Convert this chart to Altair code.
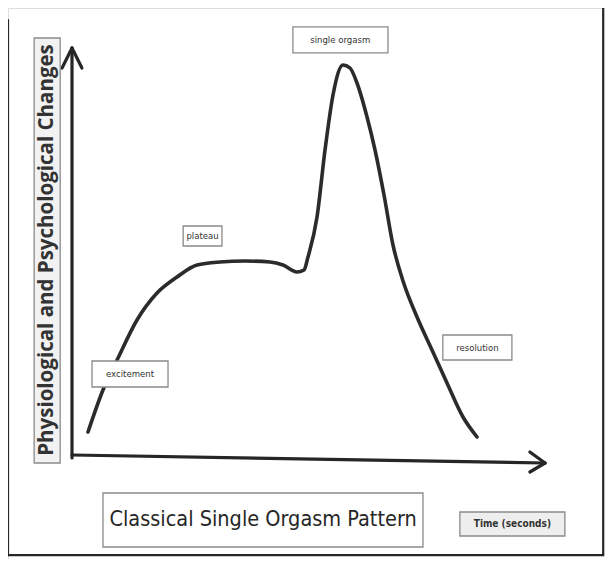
import altair as alt
import pandas as pd

# Curve: time (arbitrary units) vs physiological/psychological response
curve_time = [0.338, 0.655, 0.973, 1.374, 1.797, 2.220, 2.643, 3.129, 3.657, 4.186,
              4.461, 4.757, 4.905, 4.989, 5.180, 5.349, 5.518, 5.729, 5.877, 6.025,
              6.237, 6.406, 6.596, 6.786, 6.998, 7.294, 7.611, 7.928, 8.266, 8.562]
curve_resp = [0.65, 1.70, 2.50, 3.45, 4.125, 4.525, 4.825, 4.90, 4.925, 4.90,
              4.825, 4.65, 4.70, 5.025, 6.025, 7.70, 9.075, 9.825, 9.75, 9.375,
              8.525, 7.70, 6.575, 5.325, 4.425, 3.525, 2.70, 1.875, 1.025, 0.525]

phase_labels = ["single orgasm", "plateau", "excitement", "resolution"]
title_text = "Classical Single Orgasm Pattern"
x_title_text = "Time (seconds)"
y_title_text = "Physiological and Psychological Changes"

X_DOM = [-1.353, 11.268]
Y_DOM = [-2.525, 11.25]
xs = alt.Scale(domain=X_DOM, nice=False, zero=False)
ys = alt.Scale(domain=Y_DOM, nice=False, zero=False)


def X(f="x"):
    return alt.X(f"{f}:Q", scale=xs, axis=None)


def Y(f="y"):
    return alt.Y(f"{f}:Q", scale=ys, axis=None)


curve_df = pd.DataFrame({"t": curve_time, "r": curve_resp})
curve = alt.Chart(curve_df).mark_line(
    interpolate="monotone", color="#2b2b2b", strokeWidth=3.6, strokeCap="round"
).encode(x=alt.X("t:Q", scale=xs, axis=None), y=alt.Y("r:Q", scale=ys, axis=None))

# axes with arrowheads, and the frame
seg = pd.DataFrame({
    "x": [0, 0, -0.21, 0.21, 9.68, 9.68, -1.353, -1.353, 11.23],
    "y": [0, 0.075, 9.75, 9.75, 0.15, -0.35, 10.95, -2.43, -2.43],
    "x2": [0, 10, 0, 0, 10, 10, -1.353, 11.23, 11.23],
    "y2": [10.25, -0.125, 10.25, 10.25, -0.125, -0.125, -2.43, -2.43, 11.4],
    "w": [3.2, 3.2, 3.2, 3.2, 3.2, 3.2, 2.2, 2.2, 2.2],
})
segs = alt.Chart(seg).mark_rule(color="#262626", strokeCap="round").encode(
    x=X(), y=Y(), x2="x2:Q", y2="y2:Q",
    strokeWidth=alt.StrokeWidth("w:Q", scale=None, legend=None))

# boxes
boxes = pd.DataFrame({
    "x": [4.67, 2.35, 0.423, 7.84, 0.655, 8.2, -0.80],
    "x2": [6.68, 3.17, 2.03, 9.30, 7.42, 10.42, -0.25],
    "y": [10.78, 5.8, 2.425, 3.075, -0.875, -1.35, 10.5],
    "y2": [10.13, 5.3, 1.775, 2.45, -2.225, -1.95, -0.125],
    "fill": ["#ffffff", "#ffffff", "#ffffff", "#ffffff", "#ffffff", "#eeeeee", "#f2f2f2"],
})
box = alt.Chart(boxes).mark_rect(stroke="#8a8a8a", strokeWidth=1.3).encode(
    x=X(), x2="x2:Q", y=Y(), y2="y2:Q",
    fill=alt.Fill("fill:N", scale=None, legend=None))

small = pd.DataFrame({
    "x": [5.67, 2.76, 1.226, 8.57],
    "y": [10.45, 5.55, 2.10, 2.76],
    "label": phase_labels,
})
small_txt = alt.Chart(small).mark_text(
    font="DejaVu Sans Condensed", fontSize=9.5,
    color="#333333", align="center", baseline="middle"
).encode(x=X(), y=Y(), text="label:N")

title = alt.Chart(pd.DataFrame({"x": [4.04], "y": [-1.55], "label": [title_text]})).mark_text(
    font="DejaVu Sans Condensed", fontSize=21.5, color="#262626",
    align="center", baseline="middle"
).encode(x=X(), y=Y(), text="label:N")

xt = alt.Chart(pd.DataFrame({"x": [9.31], "y": [-1.65], "label": [x_title_text]})).mark_text(
    font="DejaVu Sans Condensed", fontSize=10,
    fontWeight="bold", color="#333333", align="center", baseline="middle"
).encode(x=X(), y=Y(), text="label:N")

yt = alt.Chart(pd.DataFrame({"x": [-0.53], "y": [5.2], "label": [y_title_text]})).mark_text(
    font="Open Sans", fontSize=20.5, fontWeight="bold", color="#333333", angle=270,
    align="center", baseline="middle"
).encode(x=X(), y=Y(), text="label:N")

chart = alt.layer(segs, curve, box, small_txt, title, xt, yt).properties(
    width=597, height=551, padding=0, autosize=alt.AutoSizeParams(type="none")
).configure_view(stroke=None).configure(background="white")

chart.save("out.html", embed_options={"renderer": "svg", "actions": False})
